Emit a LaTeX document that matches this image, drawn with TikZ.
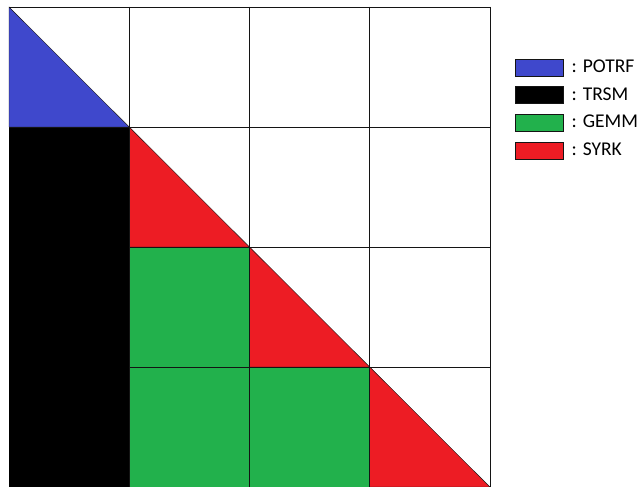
\documentclass[tikz,border=0pt]{standalone}
\usepackage{fontspec}
\setmainfont{Carlito}
\definecolor{potrf}{RGB}{63,72,204}
\definecolor{gemm}{RGB}{34,177,76}
\definecolor{syrk}{RGB}{237,28,36}
\definecolor{gridc}{RGB}{20,20,20}
\begin{document}
\begin{tikzpicture}[x=1pt,y=-1pt,
  tri/.style={draw=gridc,line width=0.4pt},
  gridline/.style={draw=gridc,line width=0.7pt},
  legbox/.style={draw=gridc,line width=0.6pt,minimum width=48pt,minimum height=17pt,inner sep=0pt,anchor=north west},
  leglabel/.style={anchor=base west,inner sep=0pt,font=\fontsize{19.5}{22}\selectfont}]
\useasboundingbox (0,0) rectangle (643,487);
\def\cw{120.25}
% grid lines (drawn first so the TRSM block hides them, as in the original)
\foreach \i in {0,...,4} {
  \draw[gridline] (9+\cw*\i,7) -- (9+\cw*\i,487);
  \draw[gridline] (9,7+120*\i) -- (490,7+120*\i);
}
% fills
\fill[black] (9,127) rectangle (129.25,487);
\fill[gemm] (129.25,247) rectangle (249.5,487);
\fill[gemm] (249.5,367) rectangle (369.75,487);
\filldraw[potrf,tri] (9,7) -- (9,127) -- (129.25,127) -- cycle;
\filldraw[syrk,tri] (129.25,127) -- (129.25,247) -- (249.5,247) -- cycle;
\filldraw[syrk,tri] (249.5,247) -- (249.5,367) -- (369.75,367) -- cycle;
\filldraw[syrk,tri] (369.75,367) -- (369.75,487) -- (490,487) -- cycle;
% grid lines over the coloured cells
\foreach \i in {1,...,4} {
  \draw[gridline] (9+\cw*\i,7) -- (9+\cw*\i,487);
}
\foreach \i in {0,...,4} {
  \draw[gridline] (129.25,7+120*\i) -- (490,7+120*\i);
}
\draw[gridline] (9,7) -- (129.25,7);
\draw[gridline] (9,127) -- (129.25,127);
% legend
\node[legbox,fill=potrf] (b1) at (515,59) {};
\node[legbox,fill=black] (b2) at (515,86.5) {};
\node[legbox,fill=gemm] (b3) at (515,114) {};
\node[legbox,fill=syrk] (b4) at (515,141.5) {};
\node[leglabel] (l1) at (571.5,72.5) {: POTRF};
\node[leglabel] (l2) at (571.5,100.5) {: TRSM};
\node[leglabel] (l3) at (571.5,128) {: GEMM};
\node[leglabel] (l4) at (571.5,155.5) {: SYRK};
\end{tikzpicture}
\end{document}
